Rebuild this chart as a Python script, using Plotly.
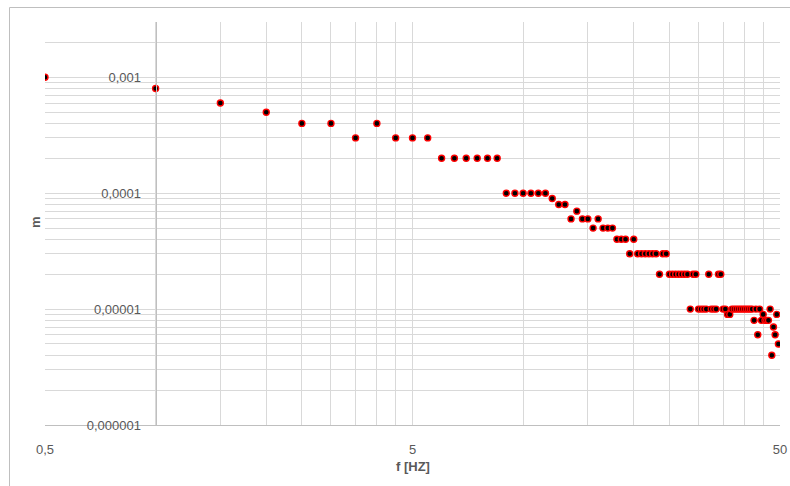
import numpy as np
import plotly.graph_objects as go

# frequencies [Hz]
f_hz = [0.5, 1, 1.5, 2, 2.5, 3, 3.5, 4, 4.5, 5,
        5.5, 6, 6.5, 7, 7.5, 8, 8.5, 9, 9.5, 10,
        10.5, 11, 11.5, 12, 12.5, 13, 13.5, 14, 14.5, 15,
        15.5, 16, 16.5, 17, 17.5, 18, 18.5, 19, 19.5, 20,
        20.5, 21, 21.5, 22, 22.5, 23, 23.5, 24, 24.5, 25,
        25.5, 26, 26.5, 27, 27.5, 28, 28.5, 29, 29.5, 30,
        30.5, 31, 31.5, 32, 32.5, 33, 33.5, 34, 34.5, 35,
        35.5, 36, 36.5, 37, 37.5, 38, 38.5, 39, 39.5, 40,
        40.5, 41, 41.5, 42, 42.5, 43, 43.5, 44, 44.5, 45,
        45.5, 46, 46.5, 47, 47.5, 48, 48.5, 49, 49.5]

# amplitude m
m_vals = [1e-3, 8e-4, 6e-4, 5e-4, 4e-4, 4e-4, 3e-4, 4e-4, 3e-4, 3e-4,
          3e-4, 2e-4, 2e-4, 2e-4, 2e-4, 2e-4, 2e-4, 1e-4, 1e-4, 1e-4,
          1e-4, 1e-4, 1e-4, 9e-5, 8e-5, 8e-5, 6e-5, 7e-5, 6e-5, 6e-5,
          5e-5, 6e-5, 5e-5, 5e-5, 5e-5, 4e-5, 4e-5, 4e-5, 3e-5, 4e-5,
          3e-5, 3e-5, 3e-5, 3e-5, 3e-5, 3e-5, 2e-5, 3e-5, 3e-5, 2e-5,
          2e-5, 2e-5, 2e-5, 2e-5, 2e-5, 2e-5, 1e-5, 2e-5, 2e-5, 1e-5,
          1e-5, 1e-5, 1e-5, 2e-5, 1e-5, 1e-5, 1e-5, 2e-5, 2e-5, 1e-5,
          1e-5, 9e-6, 9e-6, 1e-5, 1e-5, 1e-5, 1e-5, 1e-5, 1e-5, 1e-5,
          1e-5, 1e-5, 1e-5, 1e-5, 8e-6, 1e-5, 6e-6, 1e-5, 8e-6, 9e-6,
          8e-6, 8e-6, 8e-6, 1e-5, 4e-6, 7e-6, 6e-6, 9e-6, 5e-6]

# axis tick labels
x_label_vals = [0.5, 5, 50]
x_label_text = ["0,5", "5", "50"]
y_label_vals = [1e-6, 1e-5, 1e-4, 1e-3]
y_label_text = ["0,000001", "0,00001", "0,0001", "0,001"]

# gridline positions (Excel-style minor grid: 1..9 x base per decade)
x_grid = sorted({round(b * k, 6) for b in (0.5, 5) for k in range(1, 10)} | {50})
y_grid = sorted({b * k for b in (1e-6, 1e-5, 1e-4, 1e-3) for k in range(1, 10) if b * k <= 3.0001e-3})

def fmt_text(vals, label_vals, label_text):
    out = []
    for v in vals:
        t = ""
        for lv, lt in zip(label_vals, label_text):
            if abs(v - lv) / lv < 1e-6:
                t = lt
        out.append(t)
    return out

x_ticktext = fmt_text(x_grid, x_label_vals, x_label_text)
y_ticktext = fmt_text(y_grid, y_label_vals, y_label_text)

OFF = 0  # body margin removed via post_script
W, H = 790, 486
L, R, T = 45 - OFF, 10, 22 - OFF
pw, ph = W - L - R, 403
B = H - T - ph

def px_x(xr):  # reference page px -> paper x
    return (xr - OFF - L) / pw

def px_y(yr):  # reference page px -> paper y
    return (T + ph - (yr - OFF)) / ph

font_fam = "Liberation Sans, Arial, sans-serif"
txt_col = "#595959"
grid_col = "#d9d9d9"
axis_col = "#bfbfbf"

fig = go.Figure()
fig.add_trace(go.Scatter(
    x=f_hz, y=m_vals, mode="markers",
    marker=dict(size=6, color="black", line=dict(color="#ff0000", width=1.4)),
    showlegend=False, hoverinfo="x+y",
))

x_pos_of_1 = (np.log10(1) - np.log10(0.5)) / (np.log10(50) - np.log10(0.5))

fig.update_layout(
    width=W, height=H,
    margin=dict(l=L, r=R, t=T, b=B),
    paper_bgcolor="white", plot_bgcolor="white",
    font=dict(family=font_fam, size=13, color=txt_col),
    xaxis=dict(
        type="log", range=[np.log10(0.5), np.log10(50)],
        tickmode="array", tickvals=x_grid, ticktext=x_ticktext,
        showgrid=True, gridcolor=grid_col, gridwidth=1,
        showline=True, linecolor=axis_col, linewidth=1,
        ticks="", ticklabelstandoff=12, zeroline=False, automargin=False,
        ticklabeloverflow="allow",
        tickfont=dict(size=13, color=txt_col),
    ),
    yaxis=dict(
        type="log", range=[-6, np.log10(0.003)],
        tickmode="array", tickvals=y_grid, ticktext=y_ticktext,
        showgrid=True, gridcolor=grid_col, gridwidth=1,
        showline=True, linecolor=axis_col, linewidth=1,
        anchor="free", position=float(x_pos_of_1),
        ticks="", ticklabelstandoff=12, zeroline=False, automargin=False,
        ticklabeloverflow="allow",
        tickfont=dict(size=13, color=txt_col),
    ),
    annotations=[
        dict(text="<b>f [HZ]</b>", xref="paper", yref="paper",
             x=0.5, y=px_y(466),
             xanchor="center", yanchor="middle", showarrow=False,
             font=dict(size=13, color=txt_col)),
        dict(text="<b>m</b>", xref="paper", yref="paper",
             x=px_x(35), y=px_y(222),
             xanchor="center", yanchor="middle", textangle=-90, showarrow=False,
             font=dict(size=13, color=txt_col)),
    ],
    shapes=[
        dict(type="rect", xref="paper", yref="paper",
             x0=px_x(9.5), x1=px_x(820),
             y0=px_y(520), y1=px_y(7.5),
             line=dict(color="#bfbfbf", width=1), fillcolor="rgba(0,0,0,0)",
             layer="below"),
    ],
)

fig.write_html(
    "out.html",
    config={"displayModeBar": False},
    post_script="document.body.style.margin='0';document.body.style.overflow='hidden';",
)
